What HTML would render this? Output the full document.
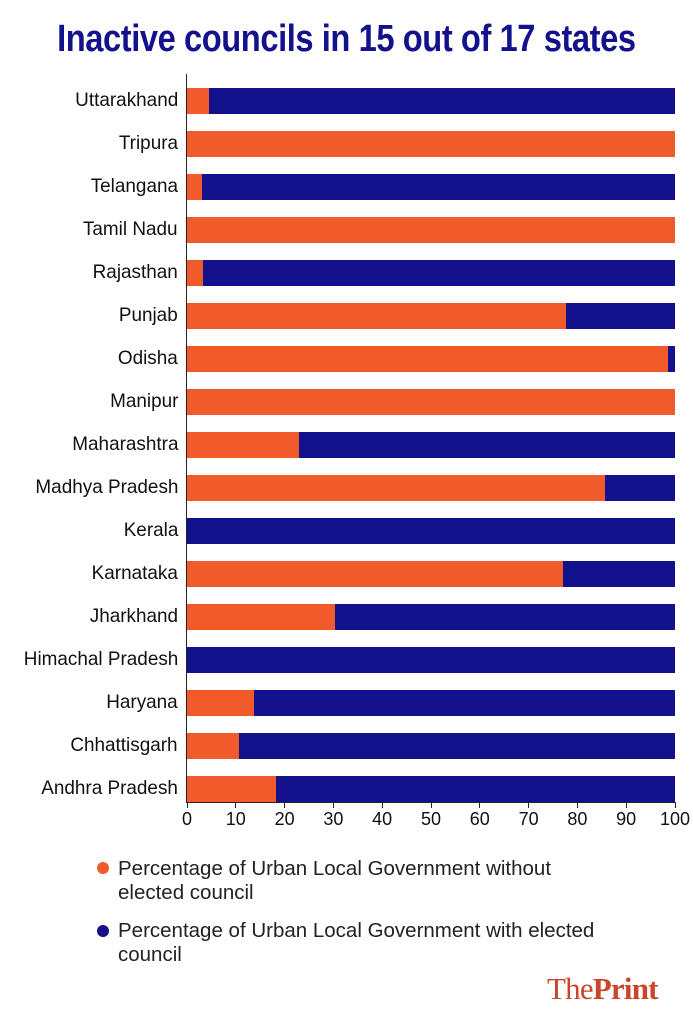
<!DOCTYPE html>
<html><head><style>
body{margin:0;width:693px;height:1024px;background:#fff;position:relative;overflow:hidden;font-family:"Liberation Sans",sans-serif}
.t{position:absolute;left:0;width:693px;top:18px;text-align:center;font-weight:bold;color:#13128c;font-size:38px;letter-spacing:-0.5px}
.t span{display:inline-block;transform:scaleX(0.86);transform-origin:center;white-space:nowrap}
.lbl{position:absolute;right:515px;font-size:19.5px;color:#111;transform:scaleX(0.97);transform-origin:right;white-space:nowrap}
.bar{position:absolute;left:187px;height:26px;width:488px;background:#13128c}
.o{position:absolute;left:0;top:0;height:26px;background:#f15a2b}
.ax{position:absolute;left:186px;top:74px;width:1px;height:728px;background:#222}
.xa{position:absolute;left:186px;top:802px;width:490px;height:1px;background:#222}
.tk{position:absolute;top:802px;width:1px;height:6px;background:#222}
.tl{position:absolute;top:809px;font-size:18px;color:#111;width:40px;text-align:center}
.lg{position:absolute;left:118px;font-size:20.5px;color:#222;line-height:24px;width:570px}
.dot{position:absolute;width:12px;height:12px;border-radius:50%}
.logo{position:absolute;left:547px;top:971px;font-family:"Liberation Serif",serif;font-size:31px;color:#c9462a;letter-spacing:-0.8px}
</style></head><body>
<div class="t"><span>Inactive councils in 15 out of 17 states</span></div>
<div class="ax"></div><div class="xa"></div>
<div id="c"></div>
<div class="dot" style="left:97px;top:862px;background:#f15a2b"></div>
<div class="lg" style="top:857px">Percentage of Urban Local Government without<br>elected council</div>
<div class="dot" style="left:97px;top:925px;background:#13128c"></div>
<div class="lg" style="top:919px">Percentage of Urban Local Government with elected<br>council</div>
<div class="logo">The<b>Print</b></div>
<script>
var d=[["Uttarakhand",4.5],["Tripura",100],["Telangana",3],["Tamil Nadu",100],["Rajasthan",3.3],["Punjab",77.7],["Odisha",98.6],["Manipur",100],["Maharashtra",23],["Madhya Pradesh",85.7],["Kerala",0],["Karnataka",77],["Jharkhand",30.3],["Himachal Pradesh",0],["Haryana",13.7],["Chhattisgarh",10.7],["Andhra Pradesh",18.3]];
var h="";
d.forEach(function(r,i){var y=88+i*43;
h+='<div class="lbl" style="top:'+(y+1)+'px">'+r[0]+'</div><div class="bar" style="top:'+y+'px"><div class="o" style="width:'+(r[1]*4.88)+'px"></div></div>';});
for(var k=0;k<=10;k++){var x=187+k*48.8;h+='<div class="tk" style="left:'+(x-0.5)+'px"></div><div class="tl" style="left:'+(x-20)+'px">'+(k*10)+'</div>';}
document.getElementById("c").innerHTML=h;
</script>
</body></html>
